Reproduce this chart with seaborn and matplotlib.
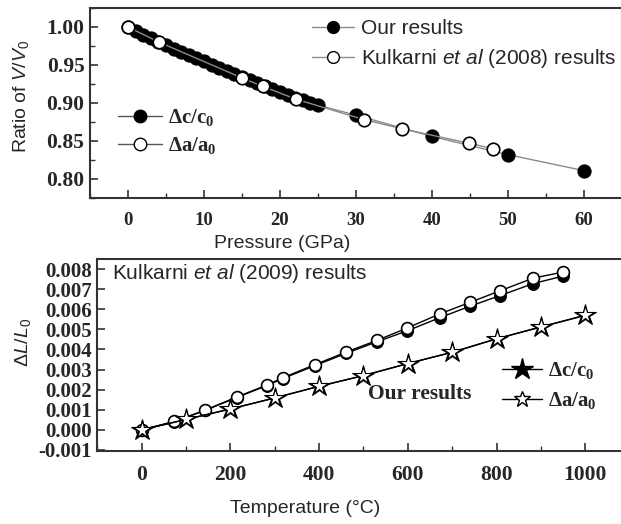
import numpy as np
import pandas as pd
import seaborn as sns
import matplotlib
matplotlib.use("Agg")
import matplotlib.pyplot as plt
from matplotlib.lines import Line2D
from matplotlib.ticker import MultipleLocator, FuncFormatter

# ---------------- data ----------------
# Top panel: V/V0 vs pressure
our_pressure = [0, 1, 2, 3, 4, 5, 6, 7, 8, 9, 10, 11, 12, 13, 14, 15, 16, 17, 18,
                19, 20, 21, 22, 23, 24, 25, 30, 40, 50, 60]
our_ratio = [1.000, 0.995, 0.990, 0.985, 0.980, 0.976, 0.971, 0.967, 0.963, 0.959,
             0.955, 0.950, 0.946, 0.942, 0.938, 0.934, 0.930, 0.926, 0.922, 0.918,
             0.914, 0.911, 0.907, 0.904, 0.900, 0.897, 0.884, 0.856, 0.832, 0.811]
kul08_pressure = [0, 4.1, 15.0, 17.7, 22.1, 31.1, 36.1, 44.9, 48.0]
kul08_ratio = [1.000, 0.980, 0.933, 0.922, 0.905, 0.878, 0.866, 0.847, 0.840]

# Bottom panel: dL/L0 vs temperature
kul09_temp = [0, 73, 143, 214, 282, 318, 391, 460, 530, 599, 672, 740, 808, 883, 950]
kul09_a = [0.0, 0.00042, 0.00098, 0.00163, 0.00223, 0.00259, 0.00325, 0.00386,
           0.00445, 0.00507, 0.00577, 0.00634, 0.00692, 0.00755, 0.00785]
kul09_c = [0.0, 0.00040, 0.00097, 0.00161, 0.00220, 0.00255, 0.00320, 0.00380,
           0.00438, 0.00493, 0.00558, 0.00615, 0.00668, 0.00728, 0.00765]
our_temp = [0, 100, 200, 300, 400, 500, 600, 700, 800, 900, 1000]
our_a = [0.0, 0.00052, 0.00104, 0.00159, 0.00217, 0.00270, 0.00330, 0.00386,
         0.00453, 0.00512, 0.00570]
our_c = [0.0, 0.00052, 0.00104, 0.00159, 0.00217, 0.00270, 0.00330, 0.00386,
         0.00453, 0.00512, 0.00570]

top_xticks = [0, 10, 20, 30, 40, 50, 60]
top_yticks = [0.80, 0.85, 0.90, 0.95, 1.00]
bot_xticks = [0, 200, 400, 600, 800, 1000]
bot_yticks = [-0.001, 0.000, 0.001, 0.002, 0.003, 0.004, 0.005, 0.006, 0.007, 0.008]

# ---------------- style ----------------
sns.set_style("ticks")
plt.rcParams["font.family"] = ["Liberation Serif", "DejaVu Serif"]
plt.rcParams["font.weight"] = "normal"
plt.rcParams["axes.unicode_minus"] = False
plt.rcParams["mathtext.fontset"] = "custom"
plt.rcParams["mathtext.rm"] = "Liberation Sans"
plt.rcParams["mathtext.it"] = "Liberation Sans:italic"
plt.rcParams["mathtext.bf"] = "Liberation Serif:bold"

SANS = "Liberation Sans"
W, H = 621, 524
fig = plt.figure(figsize=(W / 100, H / 100), dpi=100)

def px_axes(l, r, t, b):
    return fig.add_axes([l / W, 1 - b / H, (r - l) / W, (b - t) / H])

ax1 = px_axes(90, 622, 8, 198)
ax2 = px_axes(97.3, 629.6, 259, 451)

for ax in (ax1, ax2):
    for s in ax.spines.values():
        s.set_linewidth(1.5)
        s.set_color("#333333")
    ax.tick_params(which="major", direction="in", length=6, width=1.2, color="#333333")
    ax.tick_params(which="minor", direction="in", length=3.5, width=1.0, color="#333333")

# ---------------- top panel ----------------
df_our = pd.DataFrame({"P": our_pressure, "R": our_ratio})
df_k08 = pd.DataFrame({"P": kul08_pressure, "R": kul08_ratio})
sns.lineplot(data=df_our, x="P", y="R", ax=ax1, color="#8a8a8a", lw=1.0,
             marker="o", markersize=9.5, markerfacecolor="black",
             markeredgecolor="black", estimator=None, sort=False, zorder=3)
sns.lineplot(data=df_k08, x="P", y="R", ax=ax1, color="#8a8a8a", lw=1.0,
             marker="o", markersize=9, markerfacecolor="white",
             markeredgecolor="black", markeredgewidth=1.2, estimator=None,
             sort=False, zorder=4)
ax1.set_xlim(-5, 65)
ax1.set_ylim(0.775, 1.025)
ax1.set_xticks(top_xticks)
ax1.xaxis.set_minor_locator(MultipleLocator(5))
ax1.set_yticks(top_yticks)
ax1.yaxis.set_minor_locator(MultipleLocator(0.025))
ax1.yaxis.set_major_formatter(FuncFormatter(lambda v, p: f"{v:.2f}"))
ax1.tick_params(axis="x", labelsize=13.5, pad=10)
ax1.tick_params(axis="y", labelsize=15.5, pad=4)
ax1.set_xlabel("Pressure (GPa)", fontfamily=SANS, fontweight="normal",
               fontsize=14, va="center")
ax1.xaxis.set_label_coords(0.361, -0.237)
ax1.set_ylabel(r"Ratio of $V/V_0$", fontfamily=SANS, fontweight="normal",
               fontsize=14, va="center")
ax1.yaxis.set_label_coords(-0.13, 0.532)

h_our = Line2D([], [], color="#8a8a8a", lw=1.0, marker="o", markersize=8.5,
               markerfacecolor="black", markeredgecolor="black")
h_k08 = Line2D([], [], color="#8a8a8a", lw=1.0, marker="o", markersize=8.5,
               markerfacecolor="white", markeredgecolor="black")
leg1 = ax1.legend([h_our, h_k08],
                  ["Our results", r"Kulkarni $et\ al$ (2008) results"],
                  loc="upper left", bbox_to_anchor=(312 / W, 1 - 19 / H),
                  bbox_transform=fig.transFigure, frameon=False, borderpad=0,
                  borderaxespad=0, handlelength=2.0, handletextpad=0.35,
                  labelspacing=0.45, prop={"family": SANS, "weight": "normal", "size": 15})
ax1.add_artist(leg1)
h_c = Line2D([], [], color="#555555", lw=1.0, marker="o", markersize=9,
             markerfacecolor="black", markeredgecolor="black")
h_a = Line2D([], [], color="#555555", lw=1.0, marker="o", markersize=9,
             markerfacecolor="white", markeredgecolor="black")
ax1.legend([h_c, h_a], [r"$\mathbf{\Delta c/c_0}$", r"$\mathbf{\Delta a/a_0}$"],
           loc="upper left", bbox_to_anchor=(118 / W, 1 - 107 / H),
           bbox_transform=fig.transFigure, frameon=False, borderpad=0,
           borderaxespad=0, handlelength=2.1, handletextpad=0.3,
           labelspacing=0.35, prop={"size": 15})

# ---------------- bottom panel ----------------
df_k09 = pd.DataFrame({"T": kul09_temp, "c": kul09_c, "a": kul09_a})
df_our2 = pd.DataFrame({"T": our_temp, "c": our_c, "a": our_a})
sns.lineplot(data=df_k09, x="T", y="c", ax=ax2, color="black", lw=1.0, marker="o",
             markersize=8.5, markerfacecolor="black", markeredgecolor="black",
             estimator=None, sort=False, zorder=3)
sns.lineplot(data=df_k09, x="T", y="a", ax=ax2, color="black", lw=1.0, marker="o",
             markersize=8.5, markerfacecolor="white", markeredgecolor="black",
             markeredgewidth=1.2, estimator=None, sort=False, zorder=4)
sns.lineplot(data=df_our2, x="T", y="c", ax=ax2, color="black", lw=1.0, marker="*",
             markersize=16, markerfacecolor="black", markeredgecolor="black",
             estimator=None, sort=False, zorder=5)
sns.lineplot(data=df_our2, x="T", y="a", ax=ax2, color="black", lw=1.0, marker="*",
             markersize=13, markerfacecolor="white", markeredgecolor="black",
             markeredgewidth=0.8, estimator=None, sort=False, zorder=6)
ax2.set_xlim(-100, 1100)
ax2.set_ylim(-0.00105, 0.0085)
ax2.set_xticks(bot_xticks)
ax2.xaxis.set_minor_locator(MultipleLocator(100))
ax2.set_yticks(bot_yticks)
ax2.yaxis.set_major_formatter(FuncFormatter(lambda v, p: f"{v:.3f}"))
ax2.tick_params(axis="x", labelsize=15.5, pad=10)
ax2.tick_params(axis="y", labelsize=15, pad=4)
ax2.set_xlabel("Temperature (\u00b0C)", fontfamily=SANS, fontweight="normal",
               fontsize=14, va="center")
ax2.xaxis.set_label_coords(0.390, -0.302)
ax2.set_ylabel(r"$\Delta L/L_0$", fontfamily=SANS, fontweight="normal",
               fontsize=14, va="center")
ax2.yaxis.set_label_coords(-0.14, 0.568)

for ax in (ax1, ax2):
    for lbl in ax.get_xticklabels() + ax.get_yticklabels():
        lbl.set_fontweight("bold")

h_sc = Line2D([], [], color="black", lw=1.0, marker="*", markersize=16,
              markerfacecolor="black", markeredgecolor="black")
h_sa = Line2D([], [], color="black", lw=1.0, marker="*", markersize=12,
              markerfacecolor="white", markeredgecolor="black")
ax2.legend([h_sc, h_sa], [r"$\mathbf{\Delta c/c_0}$", r"$\mathbf{\Delta a/a_0}$"],
           loc="upper left", bbox_to_anchor=(502 / W, 1 - 360 / H),
           bbox_transform=fig.transFigure, frameon=False, borderpad=0,
           borderaxespad=0, handlelength=1.9, handletextpad=0.3,
           labelspacing=0.45, prop={"size": 15})
ax2.text(0.606, 0.297, "Our results", transform=ax2.transAxes, ha="center",
         va="center", fontsize=15.5, fontweight="bold")
ax2.text(0.0276, 0.927, r"Kulkarni $et\ al$ (2009) results", transform=ax2.transAxes,
         ha="left", va="center", fontsize=15, fontfamily=SANS, fontweight="normal")

fig.savefig("out.png", dpi=100)
